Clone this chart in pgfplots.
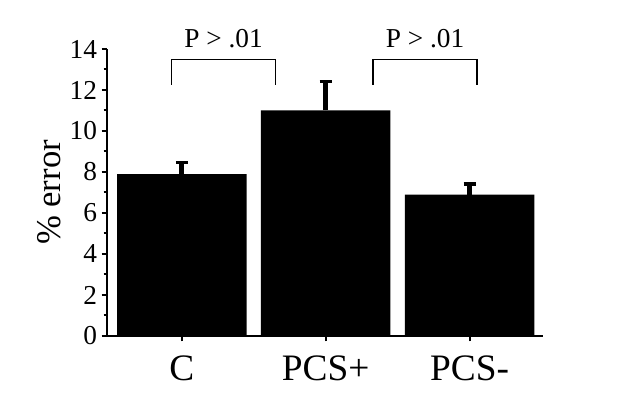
\documentclass[border=0pt]{standalone}
\usepackage{fontspec}
\setmainfont{Liberation Serif}
\usepackage{pgfplots}
\pgfplotsset{compat=1.18}

\newcommand{\tickfont}{\fontsize{20.5}{24}\selectfont}
\newcommand{\catfont}{\fontsize{28}{32}\selectfont}
\newcommand{\labfont}{\fontsize{26}{30}\selectfont}

\begin{document}
\begin{tikzpicture}
% page frame: 618x402 px at 0.75pt per px
\path[use as bounding box] (0,0) rectangle (463.5pt,301.5pt);
\begin{axis}[
  at={(80.25pt,49.5pt)}, anchor=south west,
  scale only axis, width=327pt, height=215.25pt,
  xmin=-0.52, xmax=2.51, ymin=0, ymax=14,
  axis x line*=bottom, axis y line*=left,
  axis line style={-, line width=2pt},
  xtick={0,1,2}, xticklabels={C,PCS+,PCS-},
  ytick={0,2,...,14}, minor y tick num=1,
  tick align=outside,
  major tick length=4pt, minor tick length=2.5pt,
  every tick/.style={black, line width=1.5pt},
  /pgf/number format/assume math mode=true,
  yticklabel style={font=\tickfont},
  xticklabel style={font=\catfont, yshift=-7pt},
  ylabel={\% error}, ylabel style={font=\labfont},
  clip=false,
]
\addplot[ybar, bar width=0.9, fill=black, draw=none,
  error bars/.cd, y dir=plus, y explicit,
  error bar style={line width=3.5pt, black},
  error mark options={rotate=90, line width=2.5pt, mark size=4.5pt, black}]
  coordinates {(0,7.9) +- (0,0.55) (1,11.0) +- (0,1.42) (2,6.9) +- (0,0.52)};
% significance brackets
\draw[line width=1.1pt] (axis cs:-0.07,12.25) -- (axis cs:-0.07,13.5) -- (axis cs:0.65,13.5) -- (axis cs:0.65,12.25);
\draw[line width=1.1pt] (axis cs:1.33,12.25) -- (axis cs:1.33,13.5) -- (axis cs:2.05,13.5) -- (axis cs:2.05,12.25);
\node[anchor=base, font=\tickfont, inner sep=0pt] at (axis cs:0.29,14.05) {P > .01};
\node[anchor=base, font=\tickfont, inner sep=0pt] at (axis cs:1.69,14.05) {P > .01};
\end{axis}
\end{tikzpicture}
\end{document}
